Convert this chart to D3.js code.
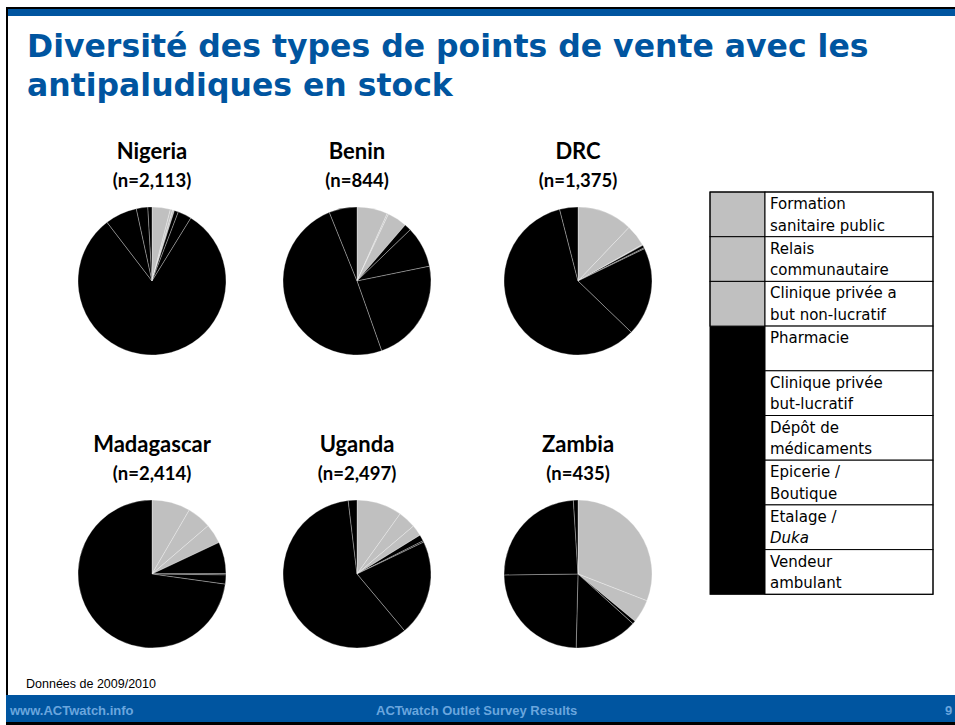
<!DOCTYPE html>
<html><head><meta charset="utf-8">
<script src="https://cdn.jsdelivr.net/npm/d3@7/dist/d3.min.js"></script>
<style>body{margin:0;background:#fff}svg{display:block}</style>
</head><body>
<svg id="c" width="955" height="725"></svg>
<script>
// ---- data ----
const categories = ["Formation sanitaire public","Relais communautaire","Clinique privée a but non-lucratif","Pharmacie","Clinique privée but-lucratif","Dépôt de médicaments","Epicerie / Boutique","Etalage / Duka","Vendeur ambulant"];
const categoryGroup = ["public","public","public","private","private","private","private","private","private"];
const countries = ["Nigeria","Benin","DRC","Madagascar","Uganda","Zambia"];
const sampleSizes = ["2,113","844","1,375","2,414","2,497","435"];
const nigeria    = [4.0, 0.5, 0.4, 0.9, 3.0, 80.8, 7.0, 2.5, 0.9];
const benin      = [6.7, 0.3, 4.3, 1.5, 9.0, 22.8, 49.3, 6.1, 0.0];
const drc        = [12.1, 4.7, 0.2, 0.6, 0.2, 19.4, 58.8, 4.0, 0.0];
const madagascar = [8.4, 5.3, 4.3, 6.9, 0.3, 2.0, 72.8, 0.0, 0.0];
const uganda     = [9.9, 3.9, 2.4, 1.4, 0.3, 21.0, 59.2, 0.0, 1.9];
const zambia     = [30.9, 0.0, 5.1, 0.7, 13.7, 24.4, 24.2, 1.0, 0.0];
const shares = [nigeria, benin, drc, madagascar, uganda, zambia];

const svg = d3.select("#c");
const blue = "#0055a0";

// slide frame
svg.append("rect").attr("x",6).attr("y",7).attr("width",949).attr("height",2).attr("fill","#000");
svg.append("rect").attr("x",6).attr("y",9).attr("width",949).attr("height",7).attr("fill",blue);
svg.append("rect").attr("x",6).attr("y",7).attr("width",2).attr("height",718).attr("fill","#000");
svg.append("rect").attr("x",6).attr("y",695).attr("width",949).attr("height",28).attr("fill",blue);
svg.append("rect").attr("x",6).attr("y",722).attr("width",949).attr("height",3).attr("fill","#000");

// title
const title = svg.append("text").attr("x",27).attr("fill",blue)
  .attr("font-family","'DejaVu Sans', Verdana, sans-serif").attr("font-weight","bold").attr("font-size",31.5);
title.append("tspan").attr("x",27).attr("y",57).text("Diversité des types de points de vente avec les");
title.append("tspan").attr("x",27).attr("y",96).text("antipaludiques en stock");

// pies
const color = d3.scaleOrdinal().domain(["public","private"]).range(["#c0c0c0","#000000"]);
const colX = d3.scalePoint().domain([0,1,2]).range([152,578]);
const rowY = d3.scalePoint().domain([0,1]).range([281,574]);
const pie = d3.pie().sort(null).value(d=>d.v);
const arc = d3.arc().innerRadius(0).outerRadius(74);

countries.forEach((c,i)=>{
  const col = i%3, row = Math.floor(i/3);
  const cx = col===1 ? 357 : colX(col);
  const cy = rowY(row);
  const g = svg.append("g").attr("transform",`translate(${cx},${cy})`);
  const data = shares[i].map((v,k)=>({v, k})).filter(d=>d.v>0);
  g.selectAll("path").data(pie(data)).join("path")
    .attr("d",arc)
    .attr("fill",d=>color(categoryGroup[d.data.k]))
    .attr("stroke","#fff").attr("stroke-width",0.5).attr("stroke-opacity",0.6);
  const t = svg.append("g").attr("font-family","Lato, Carlito, sans-serif").attr("font-weight","bold")
    .attr("text-anchor","middle").attr("fill","#000");
  t.append("text").attr("x",cx).attr("y",cy-122).attr("font-size",22).text(c);
  t.append("text").attr("x",cx).attr("y",cy-94).attr("font-size",18.5).text(`(n=${sampleSizes[i]})`);
});

// legend table
const lx = 710, lw = 223, sw = 55, ly = 192, rh = 44.7;
const leg = svg.append("g");
const rows = d3.scaleBand().domain(d3.range(categories.length)).range([ly, ly+rh*categories.length]);
categories.forEach((c,k)=>{
  if(categoryGroup[k]==="public"){
    leg.append("rect").attr("x",lx).attr("y",rows(k)).attr("width",sw).attr("height",rows.bandwidth())
      .attr("fill",color("public")).attr("stroke","#000").attr("stroke-width",1);
  }
});
const firstPriv = categoryGroup.indexOf("private");
leg.append("rect").attr("x",lx).attr("y",rows(firstPriv)).attr("width",sw)
  .attr("height",rows.bandwidth()*(categories.length-firstPriv)).attr("fill","#000");
const labelLines = [["Formation","sanitaire public"],["Relais","communautaire"],["Clinique privée a","but non-lucratif"],["Pharmacie"],["Clinique privée","but-lucratif"],["Dépôt de","médicaments"],["Epicerie /","Boutique"],["Etalage /","Duka"],["Vendeur","ambulant"]];
categories.forEach((c,k)=>{
  leg.append("rect").attr("x",lx+sw).attr("y",rows(k)).attr("width",lw-sw).attr("height",rows.bandwidth())
    .attr("fill","#fff").attr("stroke","#000").attr("stroke-width",1);
  labelLines[k].forEach((ln,j)=>{
    leg.append("text").attr("x",lx+sw+5).attr("y",rows(k)+17+j*21.5)
      .attr("font-family","'DejaVu Sans', Verdana, sans-serif").attr("font-size",15)
      .attr("font-style", (k===7 && j===1) ? "italic" : "normal")
      .attr("fill","#000").text(ln);
  });
});
leg.append("rect").attr("x",lx).attr("y",ly).attr("width",lw).attr("height",rh*categories.length)
  .attr("fill","none").attr("stroke","#000").attr("stroke-width",1);

// footnote & footer
svg.append("text").attr("x",26).attr("y",688).attr("font-family","'Liberation Sans', Arial, sans-serif")
  .attr("font-size",12.5).attr("fill","#000").text("Données de 2009/2010");
const ft = svg.append("g").attr("font-family","'Liberation Sans', Arial, sans-serif").attr("font-weight","bold")
  .attr("font-size",13).attr("fill","#6aa6de");
ft.append("text").attr("x",10).attr("y",715).text("www.ACTwatch.info");
ft.append("text").attr("x",376).attr("y",715).text("ACTwatch Outlet Survey Results");
ft.append("text").attr("x",945).attr("y",715).text("9");
</script>
</body></html>
